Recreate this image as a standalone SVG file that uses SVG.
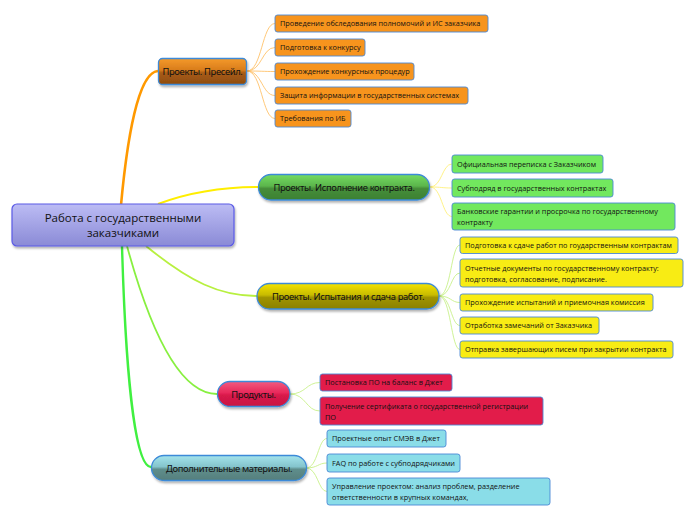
<svg xmlns="http://www.w3.org/2000/svg" width="696" height="520" viewBox="0 0 696 520">
<defs>
<linearGradient id="gC" x1="0" y1="0" x2="0" y2="1"><stop offset="0" stop-color="#bcbcf4"/><stop offset="1" stop-color="#8a8ad6"/></linearGradient>
<linearGradient id="gO" x1="0" y1="0" x2="0" y2="1"><stop offset="0" stop-color="#f59a2a"/><stop offset="0.45" stop-color="#d87c1c"/><stop offset="0.55" stop-color="#a85c14"/><stop offset="1" stop-color="#8e4c10"/></linearGradient>
<linearGradient id="gG" x1="0" y1="0" x2="0" y2="1"><stop offset="0" stop-color="#74dc62"/><stop offset="0.45" stop-color="#5cb64c"/><stop offset="0.55" stop-color="#468e3a"/><stop offset="1" stop-color="#3c8032"/></linearGradient>
<linearGradient id="gY" x1="0" y1="0" x2="0" y2="1"><stop offset="0" stop-color="#f4e400"/><stop offset="0.45" stop-color="#c8bb00"/><stop offset="0.55" stop-color="#a09400"/><stop offset="1" stop-color="#8a8000"/></linearGradient>
<linearGradient id="gR" x1="0" y1="0" x2="0" y2="1"><stop offset="0" stop-color="#f25a80"/><stop offset="0.45" stop-color="#e8285a"/><stop offset="0.55" stop-color="#d81a4a"/><stop offset="1" stop-color="#c81642"/></linearGradient>
<linearGradient id="gT" x1="0" y1="0" x2="0" y2="1"><stop offset="0" stop-color="#a4e4ec"/><stop offset="0.45" stop-color="#84c4cc"/><stop offset="0.55" stop-color="#5e8e8c"/><stop offset="1" stop-color="#567e7c"/></linearGradient>
<filter id="sh" x="-10%" y="-20%" width="120%" height="150%"><feDropShadow dx="1" dy="2" stdDeviation="1.2" flood-color="#000" flood-opacity="0.3"/></filter>
</defs>
<style>
text{font-family:"Open Sans","Noto Sans","DejaVu Sans",sans-serif;fill:#111}
.leaf{font-size:7.3px}
.br{font-family:"Noto Sans","Open Sans",sans-serif;font-size:9.4px;letter-spacing:-0.35px}
.ctr{font-size:11.5px}
.lb{stroke:#4a88d6;stroke-width:0.9}
.bn{stroke:#3c8ad8;stroke-width:1.3}
.c{fill:none}
</style>
<g id="connectors">
<path class="c" d="M121,205 C127,140 138,72 158,71" stroke="#ff9900" stroke-width="2.6"/>
<path class="c" d="M158,204 C190,192 220,187 258,187" stroke="#ffee00" stroke-width="2"/>
<path class="c" d="M146,246 C190,282 220,296 257,296" stroke="#b8f040" stroke-width="1.8"/>
<path class="c" d="M127,246 C150,330 180,394 217,394" stroke="#88f040" stroke-width="1.8"/>
<path class="c" d="M122,246 C125,350 133,467 151,467" stroke="#40f040" stroke-width="2.4"/>
<g stroke="#ffc26a" stroke-width="0.9" fill="none">
<path d="M247,71 C262,71 262,23.5 275,23.5"/>
<path d="M247,71 C262,71 262,47.5 275,47.5"/>
<path d="M247,71 C262,71 262,71.5 275,71.5"/>
<path d="M247,71 C262,71 262,95.5 275,95.5"/>
<path d="M247,71 C262,71 262,118.5 275,118.5"/>
</g>
<g stroke="#fff07a" stroke-width="0.9" fill="none">
<path d="M430,187 C442,187 442,164 452,164"/>
<path d="M430,187 C442,187 442,188 452,188"/>
<path d="M430,187 C442,187 442,216.5 452,216.5"/>
</g>
<g stroke="#c8f08a" stroke-width="0.9" fill="none">
<path d="M439,296 C451,296 451,245 460,245"/>
<path d="M439,296 C451,296 451,273 460,273"/>
<path d="M439,296 C451,296 451,302.5 460,302.5"/>
<path d="M439,296 C451,296 451,325.5 460,325.5"/>
<path d="M439,296 C451,296 451,349.5 460,349.5"/>
<path d="M290,394 C306,394 306,382.5 320,382.5"/>
<path d="M290,394 C306,394 306,411 320,411"/>
<path d="M306,468 C318,468 318,438.5 327,438.5"/>
<path d="M306,468 C318,468 318,463 327,463"/>
<path d="M306,468 C318,468 318,491.5 327,491.5"/>
</g>
</g>
<g id="center">
<rect x="12" y="204" width="222" height="42" rx="5" fill="url(#gC)" stroke="#5a5ae6" stroke-width="1.2" filter="url(#sh)"/>
<text class="ctr" x="123" y="222" text-anchor="middle">Работа с государственными</text>
<text class="ctr" x="123" y="237" text-anchor="middle">заказчиками</text>
</g>
<g id="presale">
<rect class="bn" x="158.5" y="58.5" width="88" height="26" rx="4" fill="url(#gO)" filter="url(#sh)"/>
<text class="br" x="202.5" y="75" text-anchor="middle">Проекты. Пресейл.</text>
</g>
<g id="presale-leaves">
<g id="p1"><rect class="lb" x="275" y="15" width="213" height="17" rx="2.5" fill="#f7941d"/><text class="leaf" x="280" y="26.3">Проведение обследования полномочий и ИС заказчика</text></g>
<g id="p2"><rect class="lb" x="275" y="39" width="90" height="17" rx="2.5" fill="#f7941d"/><text class="leaf" x="280" y="50.3">Подготовка к конкурсу</text></g>
<g id="p3"><rect class="lb" x="275" y="63" width="139" height="17" rx="2.5" fill="#f7941d"/><text class="leaf" x="280" y="74.3">Прохождение конкурсных процедур</text></g>
<g id="p4"><rect class="lb" x="275" y="87" width="193" height="17" rx="2.5" fill="#f7941d"/><text class="leaf" x="280" y="98.3">Защита информации в государственных системах</text></g>
<g id="p5"><rect class="lb" x="275" y="110" width="76" height="17" rx="2.5" fill="#f7941d"/><text class="leaf" x="280" y="121.3">Требования по ИБ</text></g>
</g>
<g id="execution">
<rect class="bn" x="258.5" y="174.5" width="171" height="25.5" rx="12.5" fill="url(#gG)" filter="url(#sh)"/>
<text class="br" x="344" y="191" text-anchor="middle">Проекты. Исполнение контракта.</text>
</g>
<g id="execution-leaves">
<g id="e1"><rect class="lb" x="452" y="155" width="151" height="18" rx="2.5" fill="#72e85e"/><text class="leaf" x="457" y="166.8">Официальная переписка с Заказчиком</text></g>
<g id="e2"><rect class="lb" x="452" y="179" width="161" height="18" rx="2.5" fill="#72e85e"/><text class="leaf" x="457" y="190.8">Субподряд в государственных контрактах</text></g>
<g id="e3"><rect class="lb" x="452" y="203" width="223" height="27" rx="2.5" fill="#72e85e"/><text class="leaf" x="457" y="214.3">Банковские гарантии и просрочка по государственному</text><text class="leaf" x="457" y="225.3">контракту</text></g>
</g>
<g id="testing">
<rect class="bn" x="257" y="283.5" width="182" height="25.5" rx="12.5" fill="url(#gY)" filter="url(#sh)"/>
<text class="br" x="348" y="300" text-anchor="middle">Проекты. Испытания и сдача работ.</text>
</g>
<g id="testing-leaves">
<g id="t1"><rect class="lb" x="460" y="237" width="218" height="16.5" rx="2.5" fill="#f8ec14"/><text class="leaf" x="465" y="248">Подготовка к сдаче работ по гоударственным контрактам</text></g>
<g id="t2"><rect class="lb" x="460" y="259" width="223" height="28" rx="2.5" fill="#f8ec14"/><text class="leaf" x="465" y="270.5">Отчетные документы по государственному контракту:</text><text class="leaf" x="465" y="281.5">подготовка, согласование, подписание.</text></g>
<g id="t3"><rect class="lb" x="460" y="294" width="193" height="17" rx="2.5" fill="#f8ec14"/><text class="leaf" x="465" y="305.3">Прохождение испытаний и приемочная комиссия</text></g>
<g id="t4"><rect class="lb" x="460" y="317" width="139" height="17" rx="2.5" fill="#f8ec14"/><text class="leaf" x="465" y="328.3">Отработка замечаний от Заказчика</text></g>
<g id="t5"><rect class="lb" x="460" y="341" width="213" height="17" rx="2.5" fill="#f8ec14"/><text class="leaf" x="465" y="352.3">Отправка завершающих писем при закрытии контракта</text></g>
</g>
<g id="products">
<rect class="bn" x="217.5" y="381.5" width="72.5" height="25" rx="12.5" fill="url(#gR)" filter="url(#sh)"/>
<text class="br" x="253.5" y="397.5" text-anchor="middle">Продукты.</text>
</g>
<g id="products-leaves">
<g id="r1"><rect class="lb" x="320" y="374" width="132" height="17" rx="2.5" fill="#e21c4a"/><text class="leaf" x="325" y="385.3">Постановка ПО на баланс в  Джет</text></g>
<g id="r2"><rect class="lb" x="320" y="397" width="223" height="28" rx="2.5" fill="#e21c4a"/><text class="leaf" x="325" y="408.5">Получение сертификата о государственной регистрации</text><text class="leaf" x="325" y="419.5">ПО</text></g>
</g>
<g id="extra">
<rect class="bn" x="151.5" y="455.5" width="155" height="25" rx="12.5" fill="url(#gT)" filter="url(#sh)"/>
<text class="br" x="229" y="471.5" text-anchor="middle">Дополнительные материалы.</text>
</g>
<g id="extra-leaves">
<g id="x1"><rect class="lb" x="327" y="430" width="119" height="17" rx="2.5" fill="#8adde8"/><text class="leaf" x="332" y="441.3">Проектные опыт СМЭВ в Джет</text></g>
<g id="x2"><rect class="lb" x="327" y="454" width="133" height="18" rx="2.5" fill="#8adde8"/><text class="leaf" x="332" y="465.8">FAQ по работе с субподрядчиками</text></g>
<g id="x3"><rect class="lb" x="327" y="478" width="223" height="27" rx="2.5" fill="#8adde8"/><text class="leaf" x="332" y="489.3">Управление проектом: анализ проблем, разделение</text><text class="leaf" x="332" y="500.3">ответственности в крупных командах,</text></g>
</g>
</svg>
